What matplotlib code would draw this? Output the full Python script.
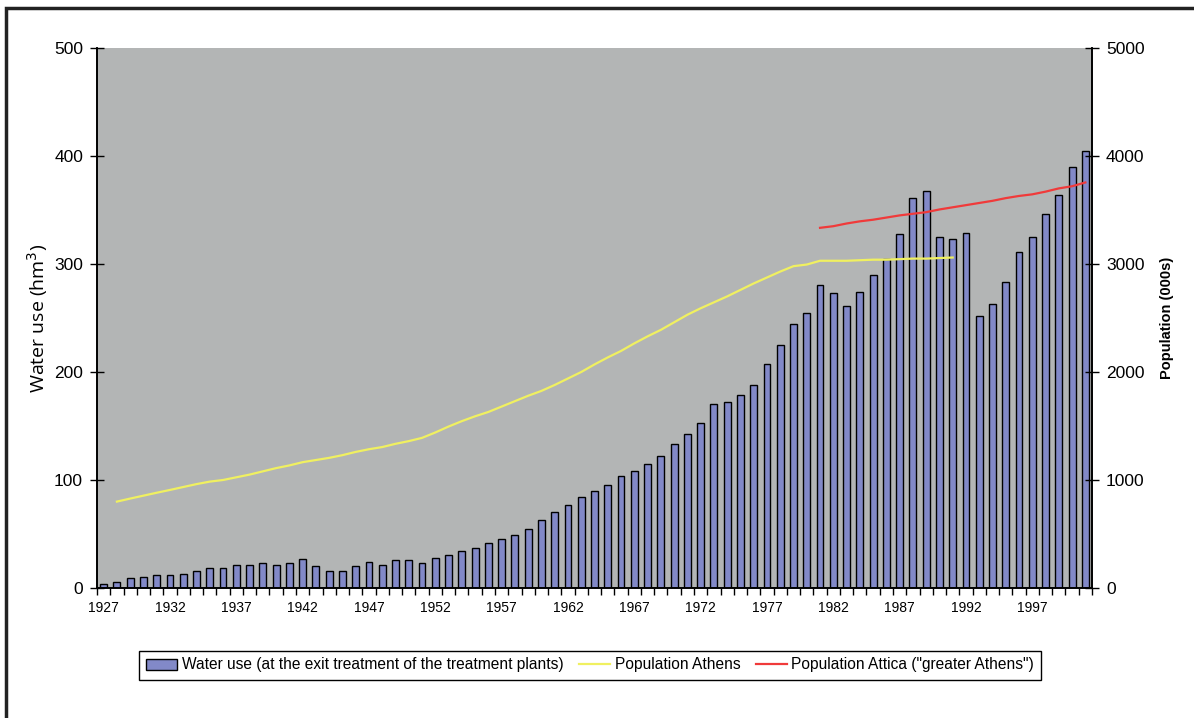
import matplotlib.pyplot as plt
import numpy as np
from matplotlib.patches import Rectangle

plt.rcParams['font.family'] = ['Liberation Sans', 'DejaVu Sans']

bar_color = "#8289C8"
bg_color = "#B3B5B5"
athens_color = "#F0F060"
attica_color = "#F03A3A"

# Data
years = list(range(1927, 2002))
water_use = [4, 6, 9, 10.5, 12, 12, 13, 16, 18.5, 18.5,
             21, 21, 23, 21, 23, 27, 20, 16, 16, 20,
             24, 21.5, 25.5, 25.5, 23, 28, 31, 34, 37, 42,
             45, 49, 55, 63, 70, 77, 84, 90, 95.5, 104,
             108, 115, 122, 133, 143, 153, 170, 172, 179, 188,
             207, 225, 244, 255, 281, 273, 261, 274, 290, 305,
             328, 361.5, 368, 325, 323, 329, 252, 263, 283, 311,
             325, 346, 364, 390, 405]

athens_years = list(range(1928, 1992))
athens_pop = [800, 828, 855, 882, 908, 935, 962, 985, 1000, 1025,
              1050, 1080, 1110, 1135, 1165, 1185, 1205, 1230, 1260, 1285,
              1305, 1335, 1360, 1390, 1440, 1495, 1545, 1590, 1630, 1680,
              1730, 1780, 1825, 1880, 1940, 2000, 2070, 2135, 2195, 2265,
              2330, 2390, 2460, 2530, 2590, 2645, 2700, 2760, 2820, 2875,
              2930, 2980, 2995, 3030, 3030, 3030, 3035, 3040, 3040, 3045,
              3050, 3050, 3055, 3060]

attica_years = list(range(1981, 2002))
attica_pop = [3335, 3350, 3375, 3395, 3410, 3430, 3450, 3465, 3480, 3505,
              3525, 3545, 3565, 3585, 3610, 3630, 3645, 3670, 3700, 3720, 3755]

fig = plt.figure(figsize=(11.94, 7.18), dpi=100)
ax = fig.add_axes([97/1194, 1-588/718, (1092-97)/1194, (588-48)/718])
ax2 = ax.twinx()

ax.set_facecolor(bg_color)

bars = ax.bar(years, water_use, width=0.52, color=bar_color, edgecolor='black',
              linewidth=1.0, label='Water use (at the exit treatment of the treatment plants)')
line1, = ax2.plot(athens_years, athens_pop, color=athens_color, lw=1.6,
                  label='Population Athens')
line2, = ax2.plot(attica_years, attica_pop, color=attica_color, lw=1.6,
                  label='Population Attica ("greater Athens")')

ax.set_xlim(1926.5, 2001.5)
ax.set_ylim(0, 500)
ax2.set_ylim(0, 5000)

ax.set_yticks(np.arange(0, 501, 100))
ax2.set_yticks(np.arange(0, 5001, 1000))
ax.tick_params(axis='y', direction='inout', length=10, width=1, labelsize=12.5, pad=5)
ax2.tick_params(axis='y', direction='inout', length=10, width=1, labelsize=12.5, pad=5)

ax.set_xticks(years[::5])
ax.set_xticks(np.arange(1926.5, 2002, 1), minor=True)
ax.tick_params(axis='x', which='major', length=0, labelsize=10, pad=9)
ax.tick_params(axis='x', which='minor', direction='out', length=5, width=1)

for a in (ax, ax2):
    a.spines['top'].set_visible(False)
    a.spines['left'].set_linewidth(1.2)
    a.spines['right'].set_linewidth(1.2)
    a.spines['bottom'].set_linewidth(1.2)

ax.set_ylabel('Water use (hm$^3$)', fontsize=14, family='Open Sans', labelpad=3)
ax2.set_ylabel('Population (000s)', fontsize=10.5, fontweight='bold', labelpad=11)

fig.legend(handles=[bars, line1, line2], loc='center', ncol=3,
           bbox_to_anchor=(590/1194, 1-665/718), fontsize=11.2, frameon=True,
           fancybox=False, edgecolor='black', framealpha=1,
           handlelength=2.0, handletextpad=0.3, columnspacing=1.0,
           borderpad=0.45)

# outer frame
fig.patches.append(Rectangle((6/1194, -0.1), 1.2, 1.1 - 8/718,
                             transform=fig.transFigure, fill=False,
                             edgecolor='#222222', linewidth=2.5))

plt.savefig('out.png', dpi=100)
